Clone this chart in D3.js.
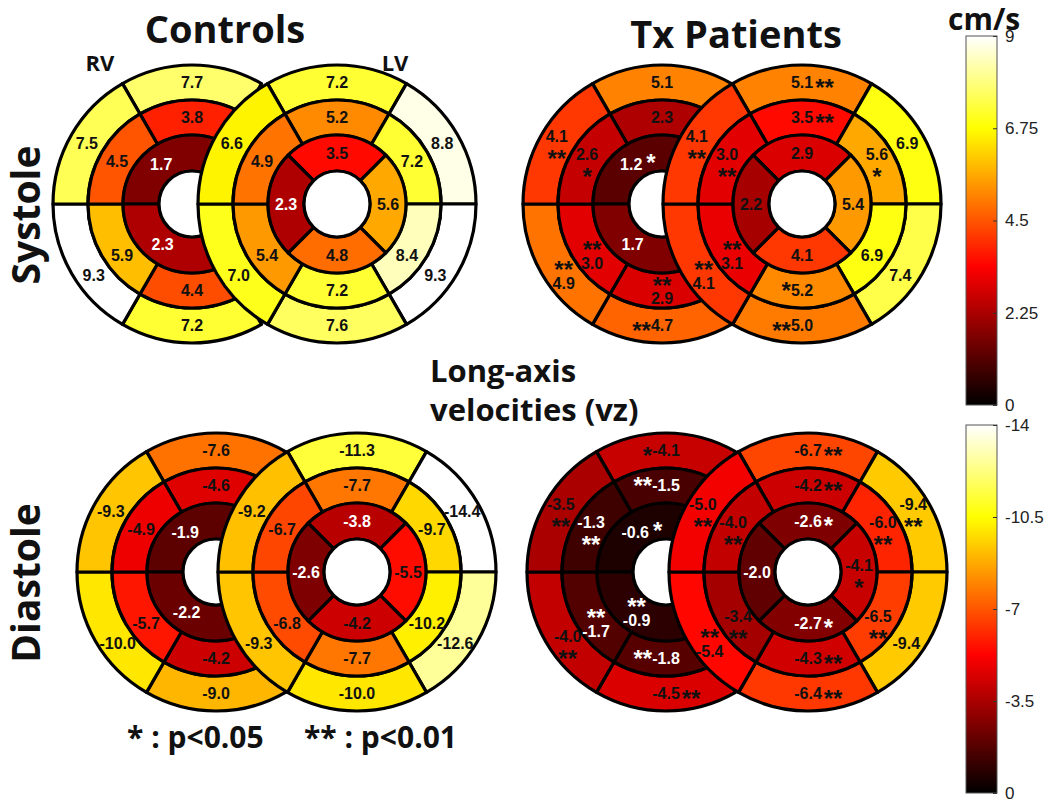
<!DOCTYPE html>
<html><head><meta charset="utf-8">
<script src="https://cdn.jsdelivr.net/npm/d3@7"></script>
<style>body{margin:0;background:#fff}</style>
</head><body>
<svg id="c" width="1050" height="806"></svg>
<script>
// ---------------- DATA ----------------
// ring order: [outer, mid, inner]
// outer & mid rings: [top, upper-right, lower-right, bottom, lower-left, upper-left]
// LV inner ring: [top, right, bottom, left]; RV inner ring: [upper, lower]
// RV right-hand segments are hidden behind the LV in the figure (null)
const sysCtrlRV = [[7.7,null,null,7.2,9.3,7.5],[3.8,null,null,4.4,5.9,4.5],[1.7,2.3]];
const sysCtrlLV = [[7.2,8.8,9.3,7.6,7.0,6.6],[5.2,7.2,8.4,7.2,5.4,4.9],[3.5,5.6,4.8,2.3]];
const sysTxRV   = [[5.1,null,null,4.7,4.9,4.1],[2.3,null,null,2.9,3.0,2.6],[1.2,1.7]];
const sysTxLV   = [[5.1,6.9,7.4,5.0,4.1,4.1],[3.5,5.6,6.9,5.2,3.1,3.0],[2.9,5.4,4.1,2.2]];
const diaCtrlRV = [[-7.6,null,null,-9.0,-10.0,-9.3],[-4.6,null,null,-4.2,-5.7,-4.9],[-1.9,-2.2]];
const diaCtrlLV = [[-11.3,-14.4,-12.6,-10.0,-9.3,-9.2],[-7.7,-9.7,-10.2,-7.7,-6.8,-6.7],[-3.8,-5.5,-4.2,-2.6]];
const diaTxRV   = [[-4.1,null,null,-4.5,-4.0,-3.5],[-1.5,null,null,-1.8,-1.7,-1.3],[-0.6,-0.9]];
const diaTxLV   = [[-6.7,-9.4,-9.4,-6.4,-5.4,-5.0],[-4.2,-6.0,-6.5,-4.3,-3.4,-4.0],[-2.6,-4.1,-2.7,-2.0]];
// significance (0 none, 1: p<0.05, 2: p<0.01), Tx patients vs controls
const sysTxRVSig = [[0,0,0,2,2,2],[0,0,0,2,2,1],[1,0]];
const sysTxLVSig = [[2,0,0,2,2,2],[2,1,0,1,2,2],[0,0,0,0]];
const diaTxRVSig = [[1,0,0,2,2,2],[2,0,0,2,2,2],[1,2]];
const diaTxLVSig = [[2,2,0,2,2,2],[2,2,2,2,2,2],[1,1,1,0]];
// colour bar ticks
const sysTicks = [0,2.25,4.5,6.75,9];
const sysTickLabels = ["0","2.25","4.5","6.75","9"];
const diaTicks = [0,-3.5,-7,-10.5,-14];
const diaTickLabels = ["0","-3.5","-7","-10.5","-14"];
const groupTitles = ["Controls","Tx Patients"];
const phaseTitles = ["Systole","Diastole"];
const legendItems = ["* : p<0.05","** : p<0.01"];

// ---------------- LAYOUT (star placement next to numbers) ----------------
// a: after, b: before, bs: before raised, s: raised after, u: under, o: over
const sysTxRVStar = [["","","","b","o","u"],["","","","o","o","u"],["s",""]];
const sysTxLVStar = [["a","","","b","o","u"],["a","u","","bs","o","u"],["","","",""]];
const diaTxRVStar = [["b","","","a","u","u"],["bs","","","bs","o","u"],["s","o"]];
const diaTxLVStar = [["a","u","","a","o","u"],["a","u","u","a","u","u"],["a","u","a",""]];

const svg = d3.select("#c");
const deg = Math.PI/180;
const R = [33, 69, 104, 139];
const ringRadii = [[R[2],R[3]],[R[1],R[2]],[R[0],R[1]]];
const sixSeg = [[60,120],[0,60],[-60,0],[-120,-60],[180,240],[120,180]];
const lvInner = [[45,135],[-45,45],[-135,-45],[135,225]];
const rvInner = [[0,180],[180,360]];

function hot(t){
  t = Math.max(0, Math.min(1, t));
  const r = Math.min(1, t/0.375);
  const g = Math.max(0, Math.min(1, (t-0.375)/0.375));
  const b = Math.max(0, Math.min(1, (t-0.75)/0.25));
  return d3.rgb(r*255, g*255, b*255).formatHex();
}
const sysColor = d3.scaleSequential(hot).domain([0,9]).clamp(true);
const diaColor = d3.scaleSequential(hot).domain([0,-14]).clamp(true);
const sysNorm = d3.scaleLinear().domain([0,9]).range([0,1]);
const diaNorm = d3.scaleLinear().domain([0,-14]).range([0,1]);

const panels = [
  {rv:sysCtrlRV, lv:sysCtrlLV, rvC:[192,204], lvC:[337,204], color:sysColor, norm:sysNorm, light:0.28},
  {rv:sysTxRV, lv:sysTxLV, rvSig:sysTxRVSig, lvSig:sysTxLVSig, rvStar:sysTxRVStar, lvStar:sysTxLVStar, rvC:[662,204], lvC:[802,204], color:sysColor, norm:sysNorm, light:0.2},
  {rv:diaCtrlRV, lv:diaCtrlLV, rvC:[216,572], lvC:[357,572], color:diaColor, norm:diaNorm, light:0.28},
  {rv:diaTxRV, lv:diaTxLV, rvSig:diaTxRVSig, lvSig:diaTxLVSig, rvStar:diaTxRVStar, lvStar:diaTxLVStar, rvC:[666,572], lvC:[808,572], color:diaColor, norm:diaNorm, light:0.2}
];

const arc = d3.arc();
const LINE = 3.2;

function drawShapes(g, c, vals, isRV, color){
  const gg = g.append("g").attr("transform", `translate(${c[0]},${c[1]})`);
  vals.forEach((ring, k) => {
    const angles = k < 2 ? sixSeg : (isRV ? rvInner : lvInner);
    ring.forEach((v, i) => {
      if (v === null) return;
      const [a0, a1] = angles[i];
      gg.append("path")
        .attr("d", arc({innerRadius: ringRadii[k][0], outerRadius: ringRadii[k][1],
                        startAngle: (90 - a1)*deg, endAngle: (90 - a0)*deg}))
        .attr("fill", color(v))
        .attr("stroke", "#000")
        .attr("stroke-width", LINE)
        .attr("stroke-linejoin", "round");
    });
  });
  gg.append("circle").attr("r", R[0]).attr("fill", "#fff").attr("stroke", "#000").attr("stroke-width", LINE);
}

function labelPos(c, k, i, isRV){
  let th, r;
  if (k === 2 && isRV){ th = i === 0 ? 128 : 234; r = 50; }
  else {
    const angles = k < 2 ? sixSeg : lvInner;
    th = (angles[i][0] + angles[i][1]) / 2;
    r = (ringRadii[k][0] + ringRadii[k][1]) / 2;
    if (k < 2 && i === 2) th -= 6;
    if (k < 2 && i === 4) th += 6;
  }
  return [c[0] + r*Math.cos(th*deg), c[1] - r*Math.sin(th*deg)];
}

const STAR_SIZE = 24;
function drawLabels(g, c, vals, sig, star, isRV, p){
  vals.forEach((ring, k) => {
    ring.forEach((v, i) => {
      if (v === null) return;
      let [x, y] = labelPos(c, k, i, isRV);
      const fill = p.norm(v) < p.light ? "#fff" : "#111";
      const s = sig ? sig[k][i] : 0;
      const pos = s ? star[k][i] : "";
      let ny = y, sx = x, sy = y, anchor = "middle";
      if (pos === "u"){ ny = y - 7; sy = y + 11; }
      if (pos === "o"){ ny = y + 8; sy = y - 10; }
      const t = g.append("text")
        .attr("x", x).attr("y", ny).attr("dy", "0.36em")
        .attr("text-anchor", "middle")
        .attr("font-family", "'Liberation Sans', Arial, sans-serif")
        .attr("font-weight", "bold").attr("font-size", 16)
        .attr("fill", fill)
        .text(v.toFixed(1));
      if (!s) return;
      const w = t.node().getComputedTextLength();
      if (pos === "a"){ sx = x + w/2 + 2; anchor = "start"; sy = y; }
      if (pos === "b"){ sx = x - w/2; anchor = "end"; sy = y; }
      if (pos === "bs"){ sx = x - w/2; anchor = "end"; sy = y - 5; }
      if (pos === "s"){ sx = x + w/2 + 4; anchor = "start"; sy = y - 7; }
      g.append("text")
        .attr("x", sx).attr("y", sy + 13)
        .attr("text-anchor", anchor)
        .attr("font-family", "'Liberation Sans', Arial, sans-serif")
        .attr("font-weight", "bold").attr("font-size", STAR_SIZE)
        .attr("letter-spacing", 0)
        .attr("fill", fill)
        .text("*".repeat(s));
    });
  });
}

const gShapes = svg.append("g");
const gLabels = svg.append("g");
panels.forEach(p => {
  drawShapes(gShapes, p.rvC, p.rv, true, p.color);
  drawShapes(gShapes, p.lvC, p.lv, false, p.color);
  drawLabels(gLabels, p.rvC, p.rv, p.rvSig, p.rvStar, true, p);
  drawLabels(gLabels, p.lvC, p.lv, p.lvSig, p.lvStar, false, p);
});

// ---------------- TEXT ----------------
const TF = "'Open Sans', 'Liberation Sans', sans-serif";
svg.append("text").attr("x", 225).attr("y", 43).attr("text-anchor", "middle")
  .attr("font-family", TF).attr("font-weight", "bold").attr("font-size", 38).attr("fill", "#111").text(groupTitles[0]);
svg.append("text").attr("x", 736).attr("y", 48).attr("text-anchor", "middle")
  .attr("font-family", TF).attr("font-weight", "bold").attr("font-size", 38).attr("fill", "#111").text(groupTitles[1]);
svg.append("text").attr("x", 100).attr("y", 71).attr("text-anchor", "middle")
  .attr("font-family", TF).attr("font-weight", "bold").attr("font-size", 22).attr("fill", "#111").text("RV");
svg.append("text").attr("x", 395).attr("y", 71).attr("text-anchor", "middle")
  .attr("font-family", TF).attr("font-weight", "bold").attr("font-size", 22).attr("fill", "#111").text("LV");
[[215, phaseTitles[0]], [583, phaseTitles[1]]].forEach(([cy, s]) => {
  svg.append("text").attr("transform", `translate(40,${cy}) rotate(-90)`).attr("text-anchor", "middle")
    .attr("font-family", TF).attr("font-weight", "bold").attr("font-size", 39).attr("fill", "#111").text(s);
});
svg.append("text").attr("x", 430).attr("y", 382)
  .attr("font-family", TF).attr("font-weight", "bold").attr("font-size", 31).attr("fill", "#111").text("Long-axis");
svg.append("text").attr("x", 430).attr("y", 421)
  .attr("font-family", TF).attr("font-weight", "bold").attr("font-size", 31).attr("fill", "#111").text("velocities (vz)");
svg.append("text").attr("x", 127).attr("y", 748)
  .attr("font-family", TF).attr("font-weight", "bold").attr("font-size", 30).attr("fill", "#111").text(legendItems[0]);
svg.append("text").attr("x", 304).attr("y", 748)
  .attr("font-family", TF).attr("font-weight", "bold").attr("font-size", 30).attr("fill", "#111").text(legendItems[1]);
svg.append("text").attr("x", 948).attr("y", 30)
  .attr("font-family", TF).attr("font-weight", "bold").attr("font-size", 30).attr("fill", "#111").text("cm/s");

// ---------------- COLOUR BARS ----------------
const defs = svg.append("defs");
const grad = defs.append("linearGradient").attr("id", "hotGrad")
  .attr("x1", 0).attr("y1", 1).attr("x2", 0).attr("y2", 0);
d3.range(0, 65).forEach(i => {
  grad.append("stop").attr("offset", (i/64*100) + "%").attr("stop-color", hot(i/64));
});
const BX = 966, BW = 31;
function colorBar(scale, ticks, labels){
  const [y0, y1] = scale.range();
  svg.append("rect").attr("x", BX).attr("y", y1).attr("width", BW).attr("height", y0 - y1)
    .attr("fill", "url(#hotGrad)").attr("stroke", "#555").attr("stroke-width", 1);
  const ax = svg.append("g").attr("transform", `translate(${BX + BW},0)`)
    .call(d3.axisRight(scale).tickValues(ticks).tickFormat((d, i) => labels[i]).tickSize(-4).tickPadding(8));
  ax.select(".domain").remove();
  ax.selectAll(".tick line").attr("stroke", "#333");
  ax.selectAll("text").attr("font-family", "'Liberation Sans', Arial, sans-serif")
    .attr("font-size", 17).attr("fill", "#222");
}
colorBar(d3.scaleLinear().domain([0, 9]).range([405, 36]), sysTicks, sysTickLabels);
colorBar(d3.scaleLinear().domain([0, -14]).range([793, 425]), diaTicks, diaTickLabels);
</script>
</body></html>
